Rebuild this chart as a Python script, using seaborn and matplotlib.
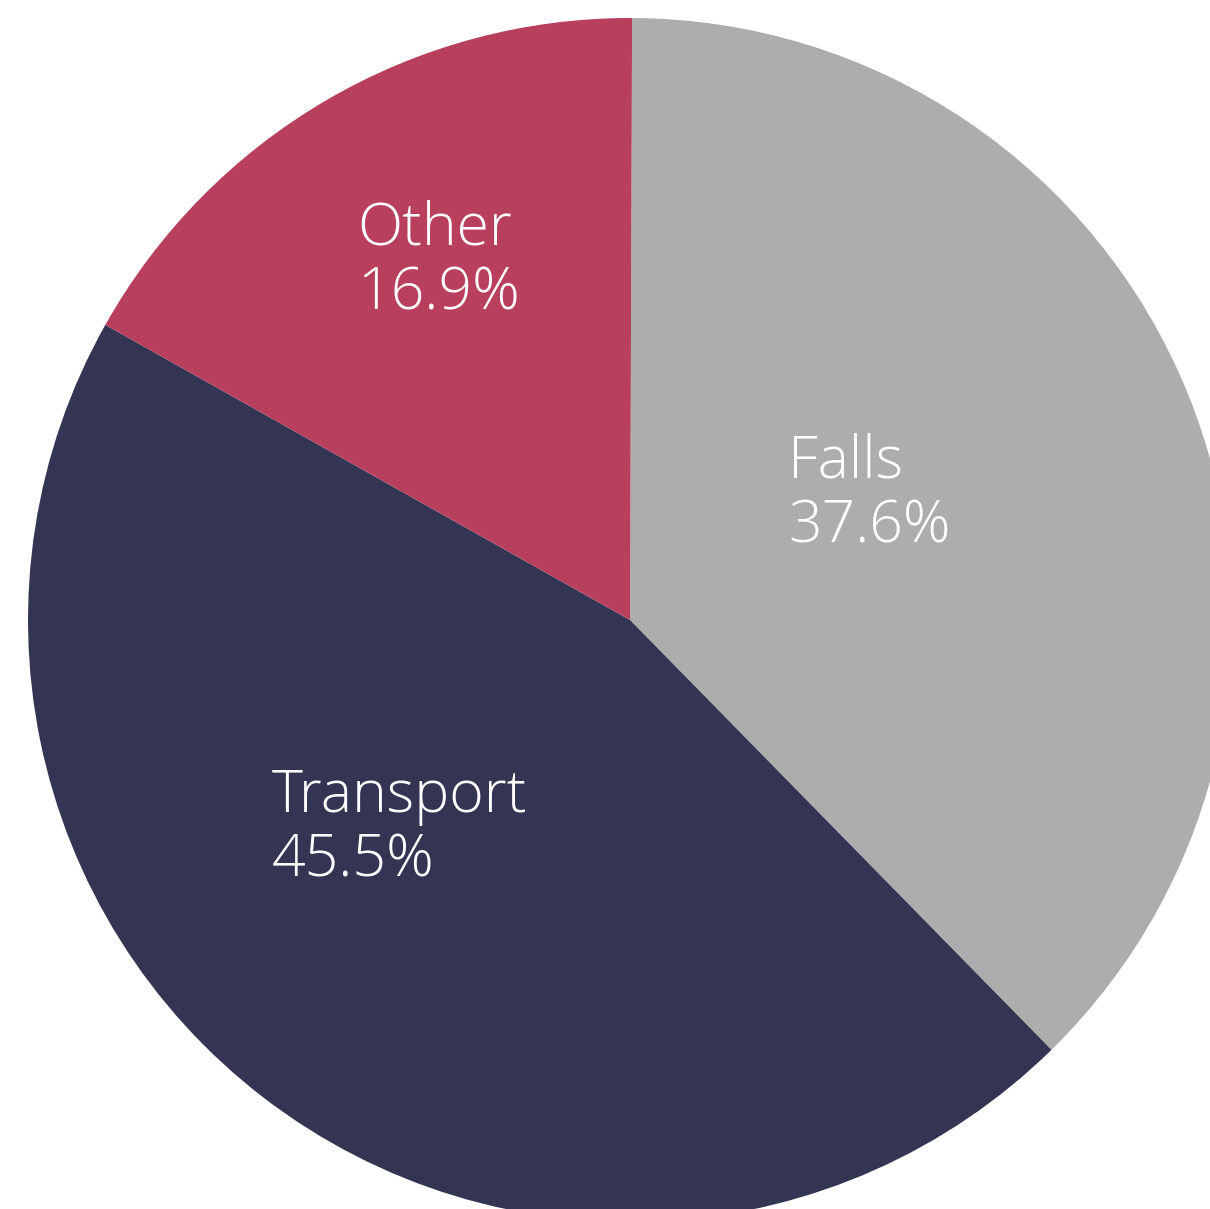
import matplotlib.pyplot as plt
import seaborn as sns

# Data
labels = ['Falls', 'Transport', 'Other']
shares = [37.6, 45.5, 16.9]
colors = ['#adadad', '#333552', '#b8405e']

sns.set_theme(style='white')
plt.rcParams['font.family'] = ['Open Sans', 'DejaVu Sans']

fig = plt.figure(figsize=(12.1, 12.09), dpi=100)
ax = fig.add_axes([0, 0, 1, 1])

ax.pie(shares, colors=colors, startangle=89.8, counterclock=False,
       radius=1, wedgeprops={'linewidth': 0})

# pie centre sits at (630, 620) px with radius ~602 px, cropped at right/bottom
cx, cy, r = 630, 620, 602
ax.set_xlim(-cx / r, (1210 - cx) / r)
ax.set_ylim((cy - 1209) / r, cy / r)
ax.set_aspect('equal')
ax.axis('off')

# label anchors (left edge, baselines of two lines) in pixels
label_pos = {'Falls': (788, 477, 543), 'Transport': (272, 812, 877), 'Other': (357, 245, 310)}
for name, val in zip(labels, shares):
    px, b1, b2 = label_pos[name]
    for txt, by in [(name, b1), (f'{val}%', b2)]:
        ax.text(px / 1210, 1 - by / 1209, txt, transform=ax.transAxes,
                ha='left', va='baseline', color='white', fontsize=42.5,
                fontweight='light')

fig.savefig('out.png', dpi=100)
